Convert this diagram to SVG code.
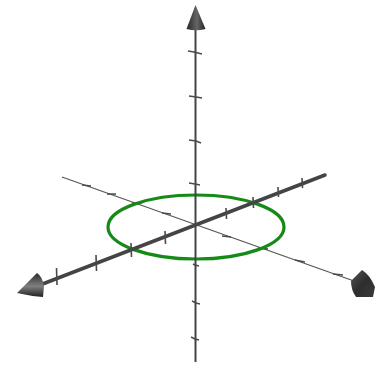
<svg xmlns="http://www.w3.org/2000/svg" width="376" height="365" viewBox="0 0 376 365">
<style>
.thin{stroke:#555;stroke-width:1.2;fill:none}
.vert{stroke:#444;stroke-width:2;fill:none}
.thick{stroke:#444;stroke-width:3.5;fill:none;stroke-linecap:round}
.tk{stroke:#4a4a4a;stroke-width:1.6;fill:none}
.tkv{stroke:#4a4a4a;stroke-width:1.5;fill:none}
.circ{stroke:#168a16;stroke-width:3.2;fill:none}
</style>
<defs>
<linearGradient id="gTop" x1="0" y1="0" x2="1" y2="0">
<stop offset="0" stop-color="#262626"/><stop offset="0.55" stop-color="#666"/><stop offset="1" stop-color="#222"/>
</linearGradient>
<linearGradient id="gLeft" x1="0" y1="0" x2="0" y2="1">
<stop offset="0" stop-color="#2a2a2a"/><stop offset="0.55" stop-color="#808080"/><stop offset="1" stop-color="#1e1e1e"/>
</linearGradient>
<linearGradient id="gRight" x1="0" y1="0" x2="1" y2="1">
<stop offset="0" stop-color="#555"/><stop offset="0.5" stop-color="#2e2e2e"/><stop offset="1" stop-color="#3a3a3a"/>
</linearGradient>
</defs>
<g id="connectors">
<g id="x-axis">
<line class="thin" x1="62" y1="177" x2="354" y2="281"/>
<path class="tk" d="M82,185 L91,186 M107,194 L116,194 M132,203 L142,203 M162,213 L171,214 M222,236 L231,237 M258,248 L268,249 M295,260 L305,262 M333,274 L343,275"/>
</g>
<g id="circle"><ellipse class="circ" cx="196" cy="227" rx="88" ry="32"/></g>
<g id="z-axis">
<line class="vert" x1="195.5" y1="28" x2="195.5" y2="362"/>
<path class="tkv" d="M188,51 L194,52 L202,54 M189,96 L196,97 L202,98 M189,140 L196,141 L201,143 M189,183 L195,184 L200,185 M193,264 L195,265 L199,266 M192,301 L196,303 L200,304 M191,337 L195,339 L199,340"/>
</g>
<g id="y-axis">
<line class="thick" x1="40" y1="285" x2="325" y2="175"/>
<path class="tk" d="M56.5,268 L57,285 M96,255 L96.5,271 M131,243 L131.5,257 M165,231 L165.5,244 M226,208 L226.5,219 M253,197 L253.5,208 M278,187 L278.5,197 M302,178 L302.5,188"/>
</g>
</g>
<g id="arrow-top"><path d="M195.5,5 L186.5,29 Q196,31.5 205.5,29 Z" fill="url(#gTop)"/></g>
<g id="arrow-left"><path d="M17,293 L37,273 Q42,276 44,286 L43,297 Q30,296 17,293 Z" fill="url(#gLeft)"/></g>
<g id="arrow-right"><path d="M351,281 L362,270 Q370,275 375,287 L373,297 L356,297 Q351,290 351,281 Z" fill="url(#gRight)"/></g>
</svg>
